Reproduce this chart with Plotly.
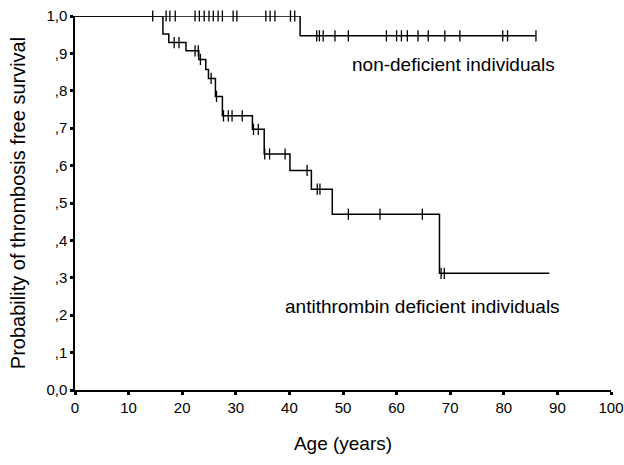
import plotly.graph_objects as go

# Non-deficient individuals: step times and survival after each step
nd_times = [0, 42.0, 86.0]
nd_surv = [1.0, 0.947, 0.947]
nd_cens_t1 = [14.5, 17.0, 17.7, 18.7, 22.4, 23.2, 24.1, 25.0, 25.8, 26.7, 27.5,
              29.5, 30.2, 35.6, 36.4, 37.3, 40.2, 41.0]
nd_cens_t2 = [45.1, 45.6, 46.3, 48.5, 51.0, 58.1, 60.0, 60.9, 62.0, 64.0, 65.9,
              69.0, 71.8, 79.8, 80.7, 86.0]

# Antithrombin deficient individuals
ad_times = [0, 16.4, 17.5, 20.7, 23.1, 24.4, 24.9, 26.2, 27.5, 33.1, 35.3,
            40.1, 44.1, 48.0, 68.0, 88.5]
ad_surv = [1.0, 0.952, 0.929, 0.907, 0.884, 0.857, 0.833, 0.785, 0.733, 0.697,
           0.631, 0.587, 0.537, 0.470, 0.312, 0.312]
ad_cens_t = [18.5, 19.4, 22.4, 23.0, 23.4, 25.4, 26.4, 27.7, 28.6, 29.3, 31.2,
             33.3, 34.2, 35.4, 36.3, 39.2, 43.3, 45.2, 45.7, 51.0, 56.9, 64.8,
             68.3, 68.9]
ad_cens_s = [0.929, 0.929, 0.907, 0.907, 0.884, 0.833, 0.785, 0.733, 0.733,
             0.733, 0.733, 0.697, 0.697, 0.631, 0.631, 0.631, 0.587, 0.537,
             0.537, 0.470, 0.470, 0.470, 0.312, 0.312]

x_ticks = [0, 10, 20, 30, 40, 50, 60, 70, 80, 90, 100]
y_ticks = [0.0, 0.1, 0.2, 0.3, 0.4, 0.5, 0.6, 0.7, 0.8, 0.9, 1.0]
y_tick_labels = ["0,0", ",1", ",2", ",3", ",4", ",5", ",6", ",7", ",8", ",9", "1,0"]

FONT = "Liberation Sans, Arial, sans-serif"
line_style = dict(color="black", width=1.5, shape="hv")
mark_style = dict(symbol="line-ns-open", size=8, color="black",
                  line=dict(color="black", width=1.3))

fig = go.Figure()
fig.add_trace(go.Scatter(x=nd_times, y=nd_surv, mode="lines", line=line_style,
                         cliponaxis=False, showlegend=False))
fig.add_trace(go.Scatter(x=nd_cens_t1 + nd_cens_t2,
                         y=[nd_surv[0]] * len(nd_cens_t1) + [nd_surv[1]] * len(nd_cens_t2),
                         mode="markers", marker=mark_style, cliponaxis=False,
                         showlegend=False))
fig.add_trace(go.Scatter(x=ad_times, y=ad_surv, mode="lines", line=line_style,
                         cliponaxis=False, showlegend=False))
fig.add_trace(go.Scatter(x=ad_cens_t, y=ad_cens_s, mode="markers", marker=mark_style,
                         cliponaxis=False, showlegend=False))

fig.add_annotation(x=51.3, y=0.87, xref="x", yref="y", text="non-deficient individuals",
                   showarrow=False, xanchor="left", yanchor="middle",
                   font=dict(family=FONT, size=19, color="black"))
fig.add_annotation(x=38.8, y=0.222, xref="x", yref="y",
                   text="antithrombin deficient individuals",
                   showarrow=False, xanchor="left", yanchor="middle",
                   font=dict(family=FONT, size=19, color="black"))

fig.update_layout(
    width=624, height=465,
    margin=dict(l=75, r=13, t=16, b=75),
    paper_bgcolor="white", plot_bgcolor="white",
    font=dict(family=FONT, color="black"),
    xaxis=dict(range=[0, 100], tickvals=x_ticks, ticks="outside", ticklen=3,
               tickwidth=3, tickcolor="black", showgrid=False, zeroline=False,
               showline=True, linecolor="black", linewidth=1.5, automargin=False,
               ticklabeloverflow="allow",
               tickfont=dict(family=FONT, size=15, color="black"),
               title=dict(text="Age (years)", standoff=22,
                          font=dict(family=FONT, size=19, color="black"))),
    yaxis=dict(range=[0, 1.0], tickvals=y_ticks, ticktext=y_tick_labels,
               ticks="outside", ticklen=3, tickwidth=3, tickcolor="black",
               showgrid=False, zeroline=False, showline=True, linecolor="black",
               linewidth=1.5, automargin=False, ticklabeloverflow="allow",
               tickfont=dict(family=FONT, size=15, color="black"),
               title=dict(text="Probability of thrombosis free survival", standoff=15,
                          font=dict(family=FONT, size=20, color="black"))),
)

# Remove the page's default body margin so the figure fills the window exactly.
fig.write_html("out.html", config={"displayModeBar": False},
               post_script="document.body.style.margin='0';")
